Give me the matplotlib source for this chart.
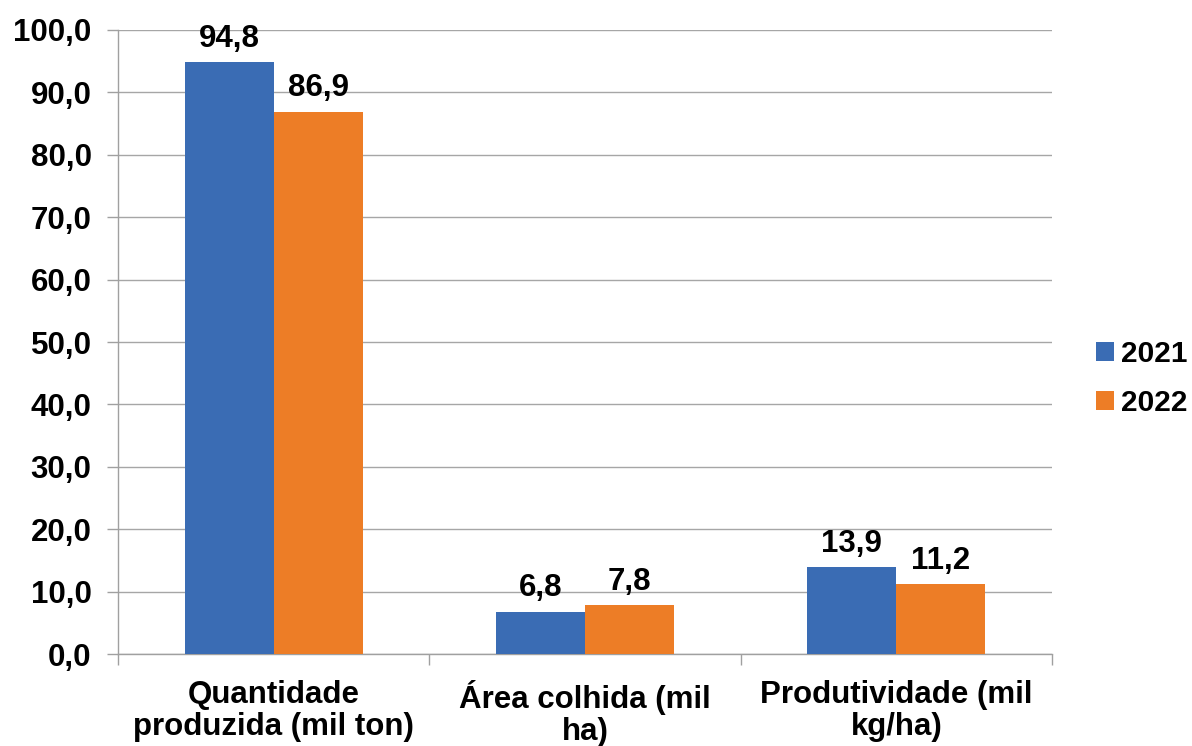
import numpy as np
import matplotlib
matplotlib.use("Agg")
import matplotlib.pyplot as plt

plt.rcParams['font.family'] = ['Liberation Sans', 'DejaVu Sans']
plt.rcParams['font.weight'] = 'bold'

# data
categorias = ["Quantidade\nproduzida (mil ton)", "Área colhida (mil\nha)", "Produtividade (mil\nkg/ha)"]
anos = ["2021", "2022"]
v2021 = [94.8, 6.8, 13.9]
v2022 = [86.9, 7.8, 11.2]
cores = ["#3A6CB4", "#ED7D26"]
yticks = np.arange(0, 101, 10)

fs = 22.5

fig = plt.figure(figsize=(11.92, 7.46), dpi=100)
ax = fig.add_axes([0.099, 0.1233, 0.7836, 0.8365])

x = np.arange(len(categorias))
w = 0.286
b1 = ax.bar(x - w/2, v2021, w, color=cores[0], label=anos[0], zorder=3)
b2 = ax.bar(x + w/2, v2022, w, color=cores[1], label=anos[1], zorder=3)

fmt = lambda v: f"{v:.1f}".replace(".", ",")
ax.bar_label(b1, labels=[fmt(v) for v in v2021], padding=6, fontsize=fs, fontweight='bold')
ax.bar_label(b2, labels=[fmt(v) for v in v2022], padding=6, fontsize=fs, fontweight='bold')

ax.set_xlim(-0.5, 2.5)
ax.set_ylim(0, 100)
ax.set_yticks(yticks)
ax.set_yticklabels([fmt(v) for v in yticks], fontsize=fs, fontweight='bold')
ax.yaxis.grid(True, color="#A6A6A6", linewidth=1.0, zorder=0)
ax.set_axisbelow(True)

ax.set_xticks([-0.5, 0.5, 1.5, 2.5])
ax.set_xticklabels([])
ax.set_xticks(x, minor=True)
ax.set_xticklabels(categorias, minor=True, fontsize=fs, fontweight='bold', linespacing=1.08)
ax.tick_params(axis='x', which='major', length=8, color="#A0A0A0", width=1)
ax.tick_params(axis='x', which='minor', length=0, pad=19)
ax.tick_params(axis='y', length=8, color="#A0A0A0", width=1, pad=11)

for s in ["top", "right"]:
    ax.spines[s].set_visible(False)
for s in ["left", "bottom"]:
    ax.spines[s].set_color("#A0A0A0")
    ax.spines[s].set_linewidth(1)

fig.legend(loc="center left", bbox_to_anchor=(0.897, 0.493), frameon=False,
           handlelength=0.6, handleheight=0.6, handletextpad=0.25,
           labelspacing=0.7, prop={'weight': 'bold', 'size': 21.5})

fig.savefig("out.png", dpi=100)
